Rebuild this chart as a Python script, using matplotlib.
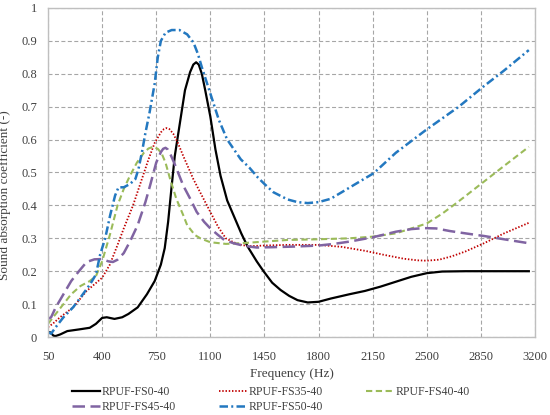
import matplotlib
matplotlib.use('Agg')
import matplotlib.pyplot as plt
from matplotlib.ticker import FuncFormatter

plt.rcParams['font.family'] = ['Liberation Serif', 'DejaVu Serif']

# --- data ---
f_fs0 = [50, 60, 70, 85, 100, 130, 175, 250, 320, 360, 400, 430, 480, 530, 570, 630, 690, 740,
         780, 805, 827, 848, 870, 903, 936, 969, 990, 1008, 1025, 1045, 1067, 1100, 1133, 1166,
         1209, 1250, 1300, 1341, 1400, 1444, 1500, 1554, 1610, 1664, 1730, 1800, 1880, 2000,
         2100, 2200, 2300, 2400, 2500, 2600, 2750, 2950, 3160]
a_fs0 = [0.010, 0.015, 0.012, 0.004, 0.003, 0.008, 0.018, 0.023, 0.028, 0.040, 0.058, 0.060,
         0.055, 0.060, 0.070, 0.090, 0.130, 0.170, 0.220, 0.270, 0.350, 0.450, 0.550, 0.650,
         0.750, 0.805, 0.828, 0.835, 0.828, 0.800, 0.750, 0.670, 0.570, 0.490, 0.415, 0.370,
         0.315, 0.275, 0.230, 0.200, 0.165, 0.143, 0.125, 0.112, 0.105, 0.107, 0.117, 0.130,
         0.140, 0.153, 0.168, 0.183, 0.194, 0.199, 0.200, 0.200, 0.200]

f_fs35 = [50, 80, 128, 212, 300, 350, 400, 450, 500, 540, 600, 650, 700, 740, 780, 800, 816,
          835, 860, 890, 925, 990, 1056, 1100, 1150, 1200, 1250, 1300, 1350, 1450, 1600, 1800,
          1950, 2100, 2220, 2350, 2440, 2500, 2580, 2660, 2750, 2870, 3000, 3160]
a_fs35 = [0.030, 0.040, 0.060, 0.090, 0.140, 0.160, 0.180, 0.220, 0.280, 0.330, 0.400, 0.470,
          0.540, 0.590, 0.622, 0.632, 0.635, 0.632, 0.618, 0.590, 0.550, 0.480, 0.420, 0.380,
          0.335, 0.300, 0.288, 0.280, 0.276, 0.278, 0.280, 0.280, 0.274, 0.262, 0.250, 0.238,
          0.233, 0.232, 0.235, 0.245, 0.260, 0.285, 0.315, 0.347]

f_fs40 = [50, 100, 150, 200, 260, 320, 360, 400, 450, 500, 540, 580, 625, 670, 700, 730, 760,
          785, 810, 840, 880, 925, 950, 1000, 1035, 1100, 1200, 1300, 1450, 1600, 1800, 2000,
          2150, 2300, 2400, 2500, 2600, 2700, 2850, 3000, 3160]
a_fs40 = [0.040, 0.070, 0.100, 0.130, 0.155, 0.170, 0.185, 0.230, 0.310, 0.400, 0.450, 0.490,
          0.530, 0.560, 0.573, 0.578, 0.572, 0.558, 0.530, 0.480, 0.420, 0.370, 0.340, 0.310,
          0.300, 0.288, 0.283, 0.285, 0.290, 0.295, 0.297, 0.300, 0.305, 0.315, 0.330, 0.345,
          0.375, 0.410, 0.465, 0.520, 0.578]

f_fs45 = [50, 70, 100, 150, 200, 250, 300, 350, 400, 440, 470, 500, 540, 580, 630, 680, 710,
          750, 780, 795, 810, 825, 845, 870, 925, 970, 1012, 1060, 1100, 1150, 1190, 1250, 1320,
          1400, 1500, 1650, 1800, 1900, 2000, 2150, 2300, 2400, 2480, 2560, 2650, 2750, 2870,
          3000, 3160]
a_fs45 = [0.055, 0.060, 0.090, 0.130, 0.170, 0.200, 0.228, 0.236, 0.237, 0.230, 0.228, 0.235,
          0.255, 0.290, 0.340, 0.410, 0.460, 0.530, 0.562, 0.572, 0.575, 0.570, 0.552, 0.525,
          0.460, 0.420, 0.380, 0.350, 0.330, 0.310, 0.295, 0.285, 0.277, 0.272, 0.273, 0.275,
          0.278, 0.283, 0.290, 0.303, 0.320, 0.328, 0.331, 0.330, 0.322, 0.315, 0.307, 0.297,
          0.285]

f_fs50 = [50, 70, 100, 150, 212, 260, 322, 360, 387, 420, 452, 484, 506, 540, 580, 615, 635,
          657, 680, 706, 740, 760, 780, 810, 850, 900, 950, 991, 1020, 1045, 1100, 1155, 1209,
          1297, 1352, 1405, 1450, 1508, 1600, 1664, 1730, 1800, 1878, 2007, 2157, 2300, 2494,
          2707, 2863, 3000, 3160]
a_fs50 = [0.015, 0.010, 0.030, 0.060, 0.090, 0.120, 0.160, 0.190, 0.250, 0.300, 0.370, 0.430,
          0.455, 0.455, 0.465, 0.480, 0.510, 0.560, 0.620, 0.680, 0.770, 0.850, 0.900, 0.925,
          0.933, 0.933, 0.920, 0.895, 0.860, 0.820, 0.740, 0.660, 0.600, 0.540, 0.515, 0.486,
          0.465, 0.440, 0.418, 0.410, 0.407, 0.410, 0.420, 0.456, 0.498, 0.560, 0.629, 0.700,
          0.760, 0.810, 0.872]

x_ticks = [50, 400, 750, 1100, 1450, 1800, 2150, 2500, 2850, 3200]
y_ticks = [0, 0.1, 0.2, 0.3, 0.4, 0.5, 0.6, 0.7, 0.8, 0.9, 1.0]

fig = plt.figure(figsize=(5.5, 4.15), dpi=100)
ax = fig.add_axes([48/550, 1 - 337/415, 487/550, 329/415])

l0, = ax.plot(f_fs0, a_fs0, color='black', lw=1.6, ls='-', label='RPUF-FS0-40')
l35, = ax.plot(f_fs35, a_fs35, color='#C00000', lw=1.3, ls=(0, (0.8, 1.0)), label='RPUF-FS35-40')
l40, = ax.plot(f_fs40, a_fs40, color='#9BBB59', lw=1.5, ls=(0, (3, 1.7)), label='RPUF-FS40-40')
l45, = ax.plot(f_fs45, a_fs45, color='#8064A2', lw=1.8, ls=(0, (5, 2.2)), label='RPUF-FS45-40')
l50, = ax.plot(f_fs50, a_fs50, color='#2378C0', lw=1.8, ls=(0, (3.4, 1.3, 0.8, 1.3)), label='RPUF-FS50-40')

ax.set_xlim(50, 3200)
ax.set_ylim(0, 1)
ax.set_xticks(x_ticks)
ax.set_yticks(y_ticks)
ax.yaxis.set_major_formatter(FuncFormatter(lambda v, p: f'{v:g}'))
ax.tick_params(length=0, labelsize=9, colors='#404040')
ax.tick_params(axis='x', pad=10)
ax.tick_params(axis='y', pad=8)
ax.grid(True, color='#A6A6A6', lw=0.8, ls=(0, (3.6, 2.2)))
for s in ax.spines.values():
    s.set_color('#BFBFBF')
    s.set_linewidth(1.0)

ax.set_xlabel('Frequency (Hz)', fontsize=9.5, color='#404040', labelpad=4)
ax.set_ylabel('Sound absorption coefficient (-)', fontsize=9.5, color='#404040', labelpad=7)
ax.yaxis.set_label_coords(-0.075, 0.43)

# row-wise legend order
handles = [l0, l45, l35, l50, l40]
fig.legend(handles, [h.get_label() for h in handles], loc='upper left',
           bbox_to_anchor=(72/550, 1 - 386/415), ncol=3, frameon=False,
           fontsize=8.5, handlelength=2.4, handletextpad=0.15, columnspacing=3.6,
           labelspacing=0.25, borderpad=0, borderaxespad=0, labelcolor='#404040')

fig.savefig('out.png', dpi=100)
